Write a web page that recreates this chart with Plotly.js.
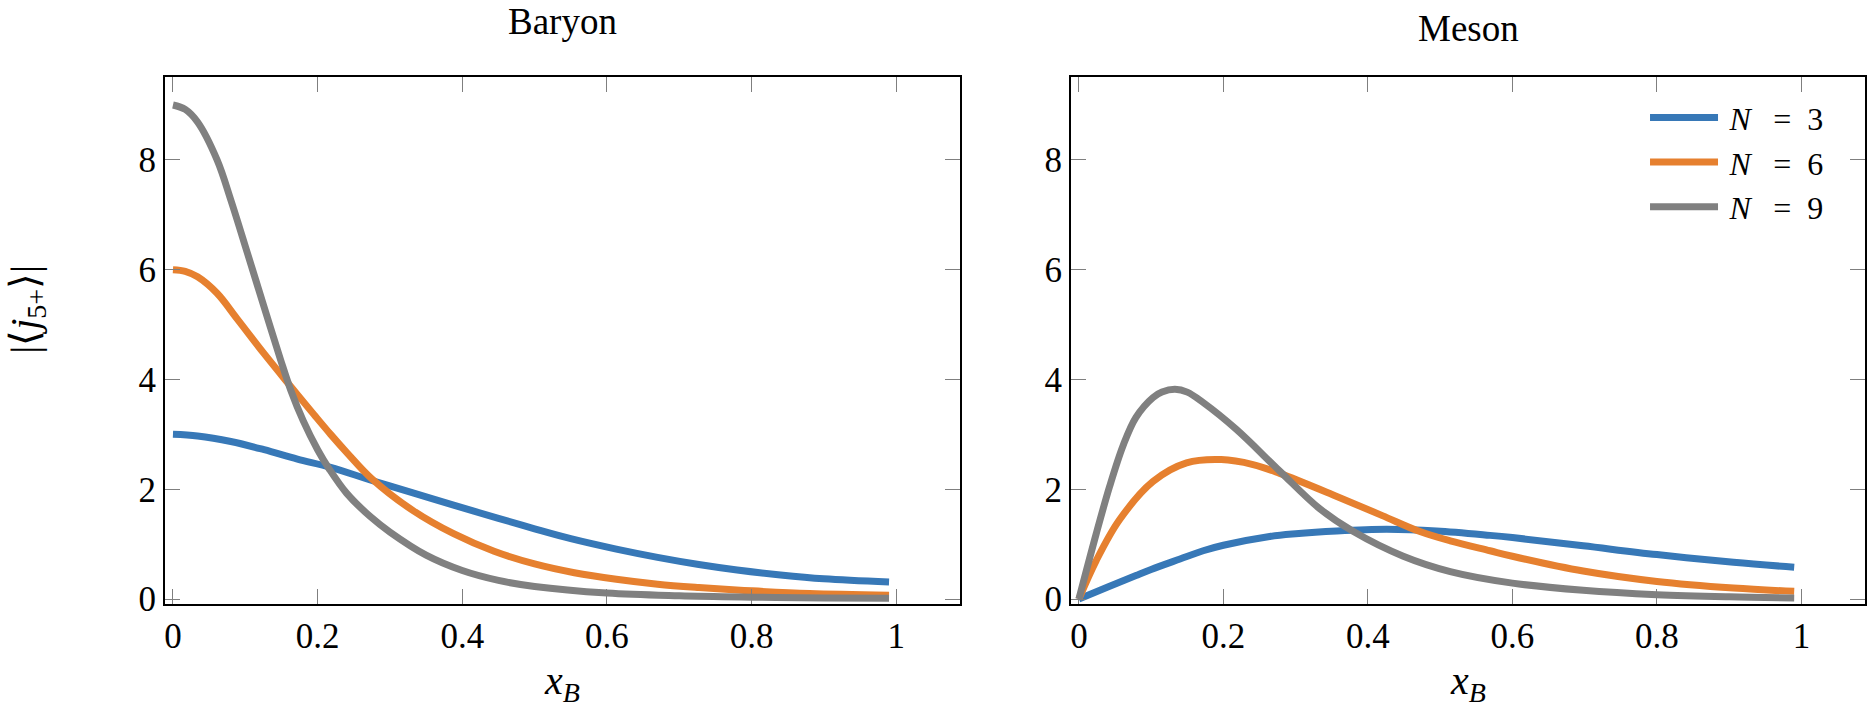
<!DOCTYPE html>
<html>
<head>
<meta charset="utf-8">
<script src="https://cdn.plot.ly/plotly-3.0.1.min.js"></script>
<style>
  html, body { margin: 0; padding: 0; background: #fff; }
  #graph { width: 1867px; height: 707px; }
</style>
</head>
<body>
<div id="graph"></div>
<script>
// ---- values ----
const panelTitles = ["Baryon", "Meson"];
const seriesNames = ["\u2009<i>N</i>\u2002\u2009=\u20023", "\u2009<i>N</i>\u2002\u2009=\u20026", "\u2009<i>N</i>\u2002\u2009=\u20029"];
const seriesColors = ["#3778b7", "#e6802f", "#808080"];
const xTicks = [0, 0.2, 0.4, 0.6, 0.8, 1];
const xTickLabels = ["0", "0.2", "0.4", "0.6", "0.8", "1"];
const yTicks = [0, 2, 4, 6, 8];

// Baryon
const baryonN3x = [0, 0.034, 0.08, 0.126, 0.172, 0.218, 0.275, 0.333, 0.388, 0.45, 0.5, 0.55, 0.613, 0.67, 0.727, 0.78, 0.84, 0.9, 0.99];
const baryonN3y = [3.0, 2.97, 2.87, 2.72, 2.55, 2.40, 2.16, 1.93, 1.71, 1.47, 1.28, 1.10, 0.91, 0.76, 0.63, 0.53, 0.44, 0.37, 0.31];
const baryonN6x = [0, 0.017, 0.034, 0.061, 0.089, 0.126, 0.158, 0.195, 0.218, 0.241, 0.275, 0.331, 0.388, 0.444, 0.5, 0.555, 0.613, 0.67, 0.727, 0.8, 0.88, 0.99];
const baryonN6y = [6.0, 5.97, 5.87, 5.57, 5.10, 4.47, 3.95, 3.36, 3.00, 2.66, 2.19, 1.62, 1.19, 0.87, 0.64, 0.48, 0.36, 0.27, 0.21, 0.15, 0.10, 0.07];
const baryonN9x = [0, 0.017, 0.034, 0.061, 0.08, 0.103, 0.126, 0.149, 0.163, 0.18, 0.2, 0.216, 0.24, 0.273, 0.3, 0.35, 0.4, 0.45, 0.5, 0.6, 0.7, 0.8, 0.9, 0.99];
const baryonN9y = [9.0, 8.92, 8.69, 8.0, 7.27, 6.30, 5.32, 4.35, 3.80, 3.25, 2.72, 2.37, 1.93, 1.50, 1.22, 0.80, 0.52, 0.34, 0.23, 0.11, 0.06, 0.035, 0.02, 0.015];

// Meson
const mesonN3x = [0, 0.04, 0.079, 0.1, 0.14, 0.172, 0.2, 0.264, 0.3, 0.357, 0.426, 0.495, 0.569, 0.6, 0.698, 0.8, 0.906, 0.99];
const mesonN3y = [0, 0.22, 0.43, 0.54, 0.73, 0.88, 0.98, 1.14, 1.19, 1.24, 1.27, 1.24, 1.16, 1.12, 0.97, 0.81, 0.67, 0.58];
const mesonN6x = [0, 0.024, 0.056, 0.1025, 0.149, 0.197, 0.241, 0.278, 0.357, 0.42, 0.472, 0.514, 0.569, 0.6, 0.698, 0.8, 0.906, 0.99];
const mesonN6y = [0, 0.70, 1.44, 2.14, 2.48, 2.54, 2.45, 2.29, 1.87, 1.52, 1.23, 1.06, 0.88, 0.78, 0.51, 0.32, 0.20, 0.14];
const mesonN9x = [0, 0.024, 0.0425, 0.061, 0.079, 0.1025, 0.115, 0.133, 0.15, 0.172, 0.218, 0.278, 0.333, 0.38, 0.449, 0.514, 0.6, 0.698, 0.8, 0.9, 0.99];
const mesonN9y = [0, 1.19, 2.05, 2.79, 3.31, 3.67, 3.77, 3.82, 3.77, 3.58, 3.09, 2.33, 1.65, 1.23, 0.78, 0.50, 0.29, 0.16, 0.08, 0.04, 0.02];

const baryonX = [baryonN3x, baryonN6x, baryonN9x];
const baryonY = [baryonN3y, baryonN6y, baryonN9y];
const mesonX = [mesonN3x, mesonN6x, mesonN9x];
const mesonY = [mesonN3y, mesonN6y, mesonN9y];

const FONT = "Liberation Serif";
const FS = 35;

const traces = [];
seriesNames.forEach((name, i) => {
  traces.push({
    x: baryonX[i], y: baryonY[i], xaxis: "x", yaxis: "y",
    mode: "lines", line: { color: seriesColors[i], width: 7, shape: "spline", smoothing: 1 },
    name, showlegend: false, hoverinfo: "skip"
  });
});
seriesNames.forEach((name, i) => {
  traces.push({
    x: mesonX[i], y: mesonY[i], xaxis: "x2", yaxis: "y2",
    mode: "lines", line: { color: seriesColors[i], width: 7, shape: "spline", smoothing: 1 },
    name, showlegend: true, hoverinfo: "skip"
  });
});

const xRange = [-0.011, 1.088];
const yRange = [-0.09, 9.51];

function xAxis(domain, anchor) {
  return {
    domain, anchor, range: xRange,
    tickvals: xTicks, ticktext: xTickLabels,
    ticks: "inside", ticklen: 15, tickwidth: 1, tickcolor: "#7f7f7f",
    showline: true, linecolor: "#000", linewidth: 2, mirror: "allticks",
    showgrid: false, zeroline: false,
    tickfont: { family: FONT, size: FS, color: "#000" }
  };
}
function yAxis(anchor) {
  return {
    anchor, range: yRange,
    tickvals: yTicks,
    ticks: "inside", ticklen: 15, tickwidth: 1, tickcolor: "#7f7f7f",
    showline: true, linecolor: "#000", linewidth: 2, mirror: "allticks",
    showgrid: false, zeroline: false,
    tickfont: { family: FONT, size: FS, color: "#000" }
  };
}

const ann = (text, x, y, extra) => Object.assign({
  text, x, y, xref: "paper", yref: "paper", showarrow: false,
  xanchor: "center", yanchor: "middle",
  font: { family: FONT, size: FS, color: "#000" }
}, extra || {});

const layout = {
  width: 1867, height: 707,
  margin: { l: 165, r: 2, t: 77, b: 103 },
  paper_bgcolor: "#fff", plot_bgcolor: "#fff",
  font: { family: FONT, color: "#000", size: FS },
  xaxis: xAxis([0, 0.4676], "y"),
  yaxis: yAxis("x"),
  xaxis2: xAxis([0.5329, 1], "y2"),
  yaxis2: yAxis("x2"),
  showlegend: true,
  legend: {
    x: 0.8706, y: 0.975, xanchor: "left", yanchor: "top",
    bgcolor: "rgba(255,255,255,0)", borderwidth: 0,
    font: { family: FONT, size: 32, color: "#000" },
    itemwidth: 68
  },
  annotations: [
    ann(panelTitles[0], 0.2338, 1.063, { yanchor: "bottom", font: { family: FONT, size: 37, color: "#000" } }),
    ann(panelTitles[1], 0.7665, 1.049, { yanchor: "bottom", font: { family: FONT, size: 37, color: "#000" } }),
    ann("<i>x</i><sub><i>B</i></sub>", 0.2338, -0.15, { font: { family: FONT, size: 40, color: "#000" } }),
    ann("<i>x</i><sub><i>B</i></sub>", 0.7665, -0.15, { font: { family: FONT, size: 40, color: "#000" } }),
    ann("|\u27e8<i>j</i><sub>5+</sub>\u27e9|", -0.0812, 0.56, { textangle: -90, font: { family: FONT, size: 40, color: "#000" } })
  ]
};

Plotly.newPlot("graph", traces, layout, { staticPlot: true, displayModeBar: false });
</script>
</body>
</html>
